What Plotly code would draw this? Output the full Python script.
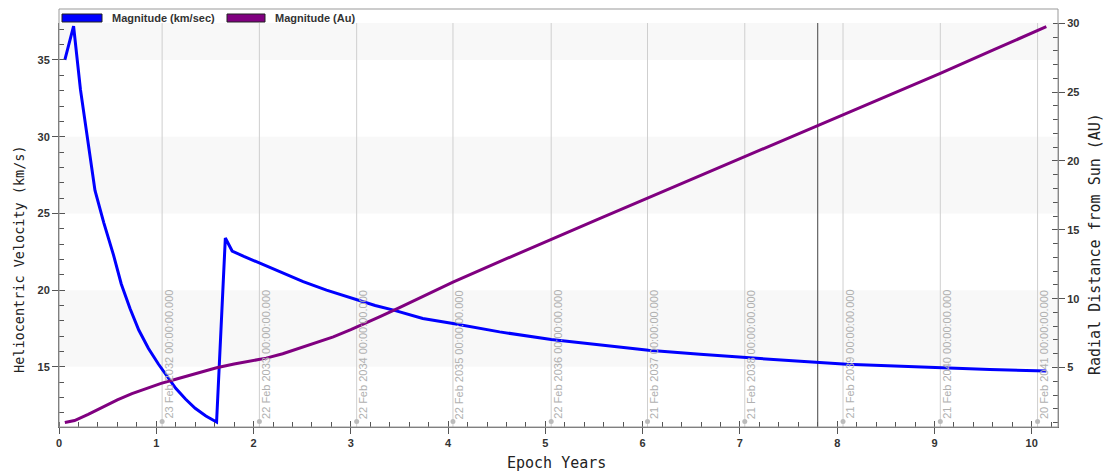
import plotly.graph_objects as go

# Heliocentric velocity (km/s) against epoch years
vel_t = [0.06, 0.15, 0.22, 0.29, 0.37, 0.46, 0.56, 0.64, 0.73, 0.82, 0.92, 1.02,
         1.11, 1.20, 1.30, 1.40, 1.51, 1.62, 1.71, 1.78, 1.90, 2.07, 2.27, 2.51,
         2.75, 3.06, 3.25, 3.44, 3.74, 4.05, 4.53, 5.06, 5.56, 6.06, 6.59, 7.05,
         7.62, 8.10, 8.64, 9.07, 9.57, 10.15]
vel_kms = [35.0, 37.2, 33.1, 30.1, 26.5, 24.4, 22.3, 20.4, 18.8, 17.4, 16.2, 15.2,
           14.4, 13.6, 12.9, 12.3, 11.8, 11.4, 23.4, 22.55, 22.2, 21.75, 21.2, 20.55,
           20.0, 19.35, 19.0, 18.7, 18.15, 17.82, 17.28, 16.78, 16.41, 16.08, 15.82, 15.6,
           15.36, 15.17, 15.04, 14.93, 14.82, 14.73]

# Radial distance from the Sun (AU) against epoch years
dist_t = [0.06, 0.16, 0.30, 0.45, 0.60, 0.75, 0.90, 1.05, 1.20, 1.35, 1.50, 1.62,
          1.80, 2.00, 2.13, 2.30, 2.47, 2.65, 2.82, 3.00, 3.13, 3.30, 3.50, 4.05,
          4.60, 5.05, 5.55, 6.05, 6.55, 7.05, 7.55, 8.06, 8.55, 9.06, 9.60, 10.15]
dist_au = [1.0, 1.15, 1.6, 2.15, 2.65, 3.1, 3.5, 3.85, 4.15, 4.45, 4.75, 4.98,
           5.25, 5.5, 5.68, 6.0, 6.38, 6.8, 7.22, 7.75, 8.15, 8.7, 9.35, 11.2,
           12.9, 14.3, 15.8, 17.3, 18.8, 20.3, 21.8, 23.35, 24.85, 26.37, 28.05, 29.75]

# Anniversary epochs marked on the time axis
event_t = [1.06, 2.06, 3.06, 4.05, 5.06, 6.05, 7.05, 8.06, 9.06, 10.06]
event_labels = ["23 Feb 2032 00:00:00.000", "22 Feb 2033 00:00:00.000",
                "22 Feb 2034 00:00:00.000", "22 Feb 2035 00:00:00.000",
                "22 Feb 2036 00:00:00.000", "21 Feb 2037 00:00:00.000",
                "21 Feb 2038 00:00:00.000", "21 Feb 2039 00:00:00.000",
                "21 Feb 2040 00:00:00.000", "20 Feb 2041 00:00:00.000"]
current_t = 7.80

series_names = ["Magnitude (km/sec)", "Magnitude (Au)"]
series_colors = ["#0000ff", "#800080"]

x_range = [0, 10.27]
y_range = [11.08, 37.41]
y2_range = [0.68, 30.02]
band_edges = [(15, 20), (25, 30), (35, 40)]

W, H = 1109, 476
ML, MR, MT, MB = 59, 51, 23, 49
plot_h = H - MT - MB

fig = go.Figure()
fig.add_trace(go.Scatter(x=vel_t, y=vel_kms, mode="lines", name=series_names[0],
                         line=dict(color=series_colors[0], width=3), yaxis="y"))
fig.add_trace(go.Scatter(x=dist_t, y=dist_au, mode="lines", name=series_names[1],
                         line=dict(color=series_colors[1], width=3), yaxis="y2"))

shapes = []
# alternating horizontal bands
for lo, hi in band_edges:
    shapes.append(dict(type="rect", xref="x", yref="y", x0=x_range[0], x1=x_range[1],
                       y0=lo, y1=min(hi, y_range[1]), fillcolor="#f8f8f8",
                       line=dict(width=0), layer="below"))
# event gridlines
for t in event_t:
    shapes.append(dict(type="line", xref="x", yref="y", x0=t, x1=t,
                       y0=y_range[0], y1=y_range[1],
                       line=dict(color="#cfcfcf", width=1), layer="below"))
    shapes.append(dict(type="circle", xref="x", yref="paper", xsizemode="pixel",
                       ysizemode="pixel", xanchor=t, yanchor=0, x0=-2.5, x1=2.5,
                       y0=3, y1=8, fillcolor="#bbbbbb", line=dict(width=0)))
# current epoch marker
shapes.append(dict(type="line", xref="x", yref="y", x0=current_t, x1=current_t,
                   y0=y_range[0], y1=y_range[1],
                   line=dict(color="#444444", width=1), layer="below"))
# outer frame including legend strip
top_frame = 1 + 14 / plot_h
shapes.append(dict(type="rect", xref="paper", yref="paper", x0=0, x1=1, y0=0,
                   y1=top_frame, line=dict(color="#999999", width=1)))

annotations = []
for t, lab in zip(event_t, event_labels):
    annotations.append(dict(x=t, y=0, xref="x", yref="paper", text=lab, textangle=-90,
                            showarrow=False, xanchor="center", yanchor="bottom",
                            xshift=6, yshift=6,
                            font=dict(family="Liberation Sans", size=11, color="#b0b0b0")))

# legend strip
def px_x(p):
    return (p - ML) / (W - ML - MR)

leg_y0 = 1 + (MT - 22) / plot_h
leg_y1 = 1 + (MT - 14) / plot_h
leg_items = [(62, 102, 110), (227, 265, 273)]
for (s0, s1, tx), name, col in zip(leg_items, series_names, series_colors):
    shapes.append(dict(type="rect", xref="paper", yref="paper", x0=px_x(s0), x1=px_x(s1),
                       y0=leg_y0, y1=leg_y1, fillcolor=col,
                       line=dict(color="#222222", width=1)))
    annotations.append(dict(x=px_x(tx), y=(leg_y0 + leg_y1) / 2, xref="paper", yref="paper",
                            text=name, showarrow=False, xanchor="left", yanchor="middle",
                            font=dict(family="Liberation Sans", size=11, color="#333333",
                                      weight="bold")))

title_font = dict(family="DejaVu Sans Mono", size=15, color="#222222")
annotations.append(dict(x=px_x(19), y=(H - MB - 259) / plot_h, xref="paper", yref="paper",
                        text="Heliocentric Velocity (km/s)", textangle=-90, showarrow=False,
                        xanchor="center", yanchor="middle",
                        font=dict(family="DejaVu Sans Mono", size=13.5, color="#222222")))
annotations.append(dict(x=px_x(1095), y=(H - MB - 244) / plot_h, xref="paper", yref="paper",
                        text="Radial Distance from Sun (AU)", textangle=-90, showarrow=False,
                        xanchor="center", yanchor="middle", font=title_font))
annotations.append(dict(x=px_x(556), y=(H - MB - 463) / plot_h, xref="paper", yref="paper",
                        text="Epoch Years", showarrow=False,
                        xanchor="center", yanchor="middle", font=title_font))

tick_font = dict(family="Liberation Sans", size=11, color="#333333", weight="bold")
tick_col = "#555555"

# overlay axes that carry the inner half of each major tick
inner_tick = dict(showgrid=False, zeroline=False, showline=False, showticklabels=False,
                  ticks="inside", ticklen=6, tickcolor=tick_col)

fig.update_layout(
    width=W, height=H,
    margin=dict(l=ML, r=MR, t=MT, b=MB, pad=0),
    paper_bgcolor="white", plot_bgcolor="white",
    showlegend=False,
    shapes=shapes, annotations=annotations,
    xaxis=dict(range=x_range, dtick=1, tick0=0, showgrid=False, zeroline=False,
               showline=True, linecolor="#666666", linewidth=1,
               ticks="outside", ticklen=6, tickcolor=tick_col, tickfont=tick_font,
               minor=dict(dtick=0.2, ticks="inside", ticklen=5, tickcolor=tick_col,
                          showgrid=False)),
    yaxis=dict(range=y_range, dtick=5, tick0=0, showgrid=False, zeroline=False,
               showline=True, linecolor="#666666", linewidth=1,
               ticks="outside", ticklen=6, tickcolor=tick_col, tickfont=tick_font,
               minor=dict(dtick=1, ticks="inside", ticklen=5, tickcolor=tick_col,
                          showgrid=False)),
    yaxis2=dict(range=y2_range, dtick=5, tick0=0, overlaying="y", side="right",
                showgrid=False, zeroline=False, showline=True, linecolor="#777777",
                linewidth=1, ticks="outside", ticklen=6, tickcolor=tick_col,
                tickfont=tick_font,
                minor=dict(dtick=1, ticks="inside", ticklen=5, tickcolor=tick_col,
                           showgrid=False)),
    xaxis2=dict(range=x_range, dtick=1, tick0=0, overlaying="x", anchor="y", **inner_tick),
    yaxis3=dict(range=y_range, dtick=5, tick0=0, overlaying="y", anchor="x", side="left",
                **inner_tick),
    yaxis4=dict(range=y2_range, dtick=5, tick0=0, overlaying="y", anchor="x", side="right",
                **inner_tick),
)

# empty traces so the overlay axes are laid out
fig.add_trace(go.Scatter(x=[], y=[], xaxis="x2", yaxis="y3", hoverinfo="skip"))
fig.add_trace(go.Scatter(x=[], y=[], xaxis="x", yaxis="y4", hoverinfo="skip"))

fig.write_html("out.html")
